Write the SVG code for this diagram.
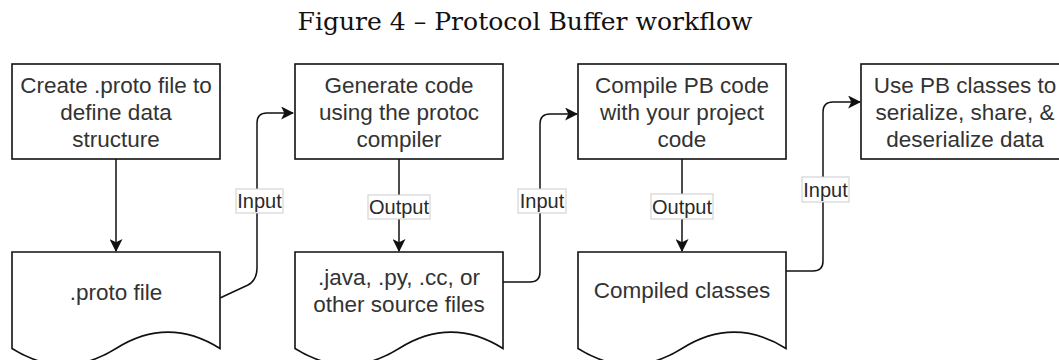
<svg xmlns="http://www.w3.org/2000/svg" width="1059" height="360" viewBox="0 0 1059 360">
  <defs>
    <style>
      .box { fill: #ffffff; stroke: #111111; stroke-width: 1.6; }
      .txt { font-family: "Liberation Sans", Arial, sans-serif; font-size: 22.5px; fill: #333333; text-anchor: middle; }
      .edge { fill: none; stroke: #111111; stroke-width: 1.5; }
      .lbl-bg { fill: #ffffff; stroke: #cccccc; stroke-width: 1; }
      .lbl { font-family: "Liberation Sans", Arial, sans-serif; font-size: 20px; fill: #2a2a2a; text-anchor: middle; }
      .title { font-family: "DejaVu Serif", "Liberation Serif", serif; font-size: 24px; fill: #111111; text-anchor: middle; }
    </style>
    <marker id="arrow" viewBox="0 0 12 12" refX="11" refY="6" markerWidth="13" markerHeight="13" markerUnits="userSpaceOnUse" orient="auto">
      <path d="M0,0 L12,6 L0,12 L3,6 Z" fill="#111111"/>
    </marker>
  </defs>

  <rect width="1059" height="360" fill="#ffffff"/>

  <text class="title" x="525" y="30" textLength="455" lengthAdjust="spacingAndGlyphs">Figure 4 – Protocol Buffer workflow</text>

  <!-- connectors -->
  <g id="connectors">
    <path class="edge" d="M116,159 V251" marker-end="url(#arrow)"/>
    <path class="edge" d="M399,159 V251" marker-end="url(#arrow)"/>
    <path class="edge" d="M682,159 V251" marker-end="url(#arrow)"/>
    <path class="edge" d="M220,298 L248,285 Q257,280 257,268 V123 Q257,113 267,113 H293" marker-end="url(#arrow)"/>
    <path class="edge" d="M503,282 H530 Q540,282 540,272 V124 Q540,114 550,114 H577" marker-end="url(#arrow)"/>
    <path class="edge" d="M786,271 H813 Q823,271 823,261 V112 Q823,102 833,102 H860" marker-end="url(#arrow)"/>

    <rect class="lbl-bg" x="236" y="189" width="47" height="24"/>
    <text class="lbl" x="259.5" y="208">Input</text>
    <rect class="lbl-bg" x="518" y="189" width="48" height="24"/>
    <text class="lbl" x="542" y="208">Input</text>
    <rect class="lbl-bg" x="802" y="177" width="47" height="25"/>
    <text class="lbl" x="825.5" y="196.5">Input</text>
    <rect class="lbl-bg" x="368" y="195" width="62" height="24"/>
    <text class="lbl" x="399" y="214">Output</text>
    <rect class="lbl-bg" x="651" y="194" width="62" height="25"/>
    <text class="lbl" x="682" y="213.5">Output</text>
  </g>

  <!-- process steps -->
  <g id="create-proto">
    <rect class="box" x="12" y="64" width="208" height="95"/>
    <text class="txt" x="116" y="93">Create .proto file to</text>
    <text class="txt" x="116" y="120">define data</text>
    <text class="txt" x="116" y="147">structure</text>
  </g>
  <g id="generate-code">
    <rect class="box" x="295" y="64" width="208" height="95"/>
    <text class="txt" x="399" y="93">Generate code</text>
    <text class="txt" x="399" y="120">using the protoc</text>
    <text class="txt" x="399" y="147">compiler</text>
  </g>
  <g id="compile-code">
    <rect class="box" x="578" y="64" width="208" height="95"/>
    <text class="txt" x="682" y="93">Compile PB code</text>
    <text class="txt" x="682" y="120">with your project</text>
    <text class="txt" x="682" y="147">code</text>
  </g>
  <g id="use-classes">
    <rect class="box" x="861" y="64" width="208" height="95"/>
    <text class="txt" x="965" y="93">Use PB classes to</text>
    <text class="txt" x="965" y="120">serialize, share, &amp;</text>
    <text class="txt" x="965" y="147">deserialize data</text>
  </g>

  <!-- produced files (document shapes) -->
  <g id="proto-file">
    <path class="box" d="M12,252 H220 V348.5 Q168,315.8 116,348.5 Q64,381.2 12,348.5 Z"/>
    <text class="txt" x="116" y="300">.proto file</text>
  </g>
  <g id="source-files">
    <path class="box" d="M295,252 H503 V348.5 Q451,315.8 399,348.5 Q347,381.2 295,348.5 Z"/>
    <text class="txt" x="399" y="285">.java, .py, .cc, or</text>
    <text class="txt" x="399" y="312">other source files</text>
  </g>
  <g id="compiled-classes">
    <path class="box" d="M578,252 H786 V348.5 Q734,315.8 682,348.5 Q630,381.2 578,348.5 Z"/>
    <text class="txt" x="682" y="298">Compiled classes</text>
  </g>
</svg>
